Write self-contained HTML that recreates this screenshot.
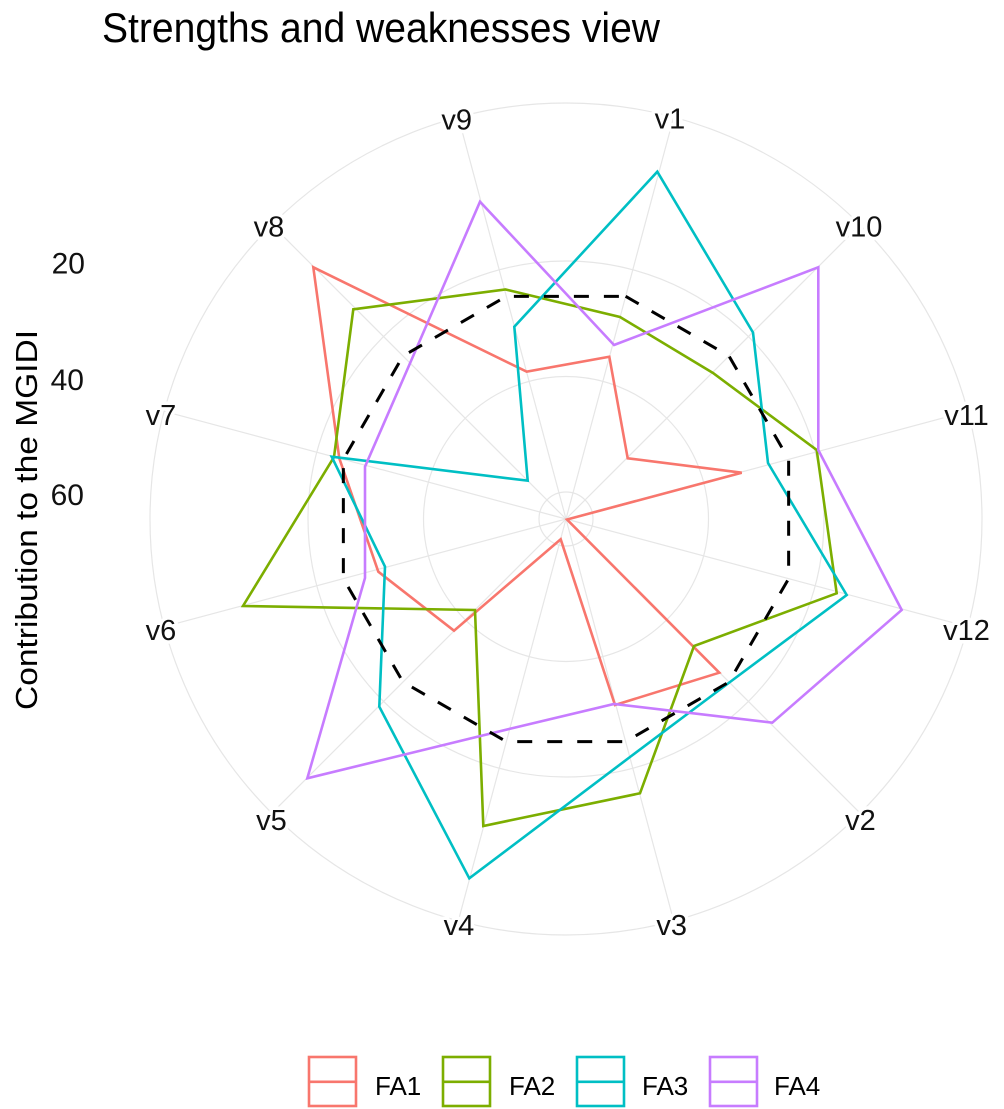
<!DOCTYPE html>
<html><head><meta charset="utf-8"><style>
html,body{margin:0;padding:0;background:#fff;}
svg{display:block;font-family:"Liberation Sans",Arial,sans-serif;}
</style></head><body>
<svg width="1004" height="1109" viewBox="0 0 1004 1109" xmlns="http://www.w3.org/2000/svg">
<rect width="1004" height="1109" fill="#fff"/>
<!-- title -->
<text x="102" y="42" font-size="42" fill="#000" textLength="558" lengthAdjust="spacingAndGlyphs">Strengths and weaknesses view</text>
<!-- grid circles -->
<g fill="none" stroke="#e6e6e6" stroke-width="1.2">
<circle cx="566" cy="519" r="27"/>
<circle cx="566" cy="519" r="142.5"/>
<circle cx="566" cy="519" r="258"/>
<circle cx="566" cy="519" r="416"/>
<line x1="566" y1="519" x2="673.67" y2="117.17"/>
<line x1="566" y1="519" x2="860.16" y2="224.84"/>
<line x1="566" y1="519" x2="967.83" y2="411.33"/>
<line x1="566" y1="519" x2="967.83" y2="626.67"/>
<line x1="566" y1="519" x2="860.16" y2="813.16"/>
<line x1="566" y1="519" x2="673.67" y2="920.83"/>
<line x1="566" y1="519" x2="458.33" y2="920.83"/>
<line x1="566" y1="519" x2="271.84" y2="813.16"/>
<line x1="566" y1="519" x2="164.17" y2="626.67"/>
<line x1="566" y1="519" x2="164.17" y2="411.33"/>
<line x1="566" y1="519" x2="271.84" y2="224.84"/>
<line x1="566" y1="519" x2="458.33" y2="117.17"/>
</g>
<!-- series -->
<g fill="none" stroke-width="2.6" stroke-linejoin="miter">
<polygon stroke="#F8766D" points="609.3,356.7 627.7,458.3 741.7,472.7 567,519.5 719.3,672.7 615,705 560.7,539.3 454,630.7 378.3,571.7 339.3,458.3 313.3,267.3 526.7,371.7"/>
<polygon stroke="#7CAE00" points="620,317 713,373 816.7,450 836.7,593.3 694,646 640,793.3 483.3,826 475,610 243,606 334,457 353.3,309.3 505.5,289.5"/>
<polygon stroke="#00BFC4" points="657.3,171.7 753,332.5 768,463 846.7,595 730,682 630,757 469.3,878.3 379.3,706.7 385,566.7 331.7,456.7 527.7,480.7 514.3,326.7"/>
<polygon stroke="#C77CFF" points="614,345 818.3,267.3 818.3,450 901.7,610 772.3,722.7 614,704 509,729 307.3,778.3 365,578 365,466.7 410.4,362.4 480,201.7"/>
</g>
<polygon fill="none" stroke="#000" stroke-width="3" stroke-dasharray="15 15" points="625.66,296.36 728.99,356.01 788.64,459.34 788.64,578.66 728.99,681.99 625.66,741.64 506.34,741.64 403.01,681.99 343.36,578.66 343.36,459.34 403.01,356.01 506.34,296.36"/>
<!-- theta labels -->
<g font-size="29" fill="#111" text-anchor="middle" stroke="#fff" stroke-width="7" paint-order="stroke" stroke-linejoin="round">
<text x="670" y="128.5">v1</text>
<text x="859" y="236.7">v10</text>
<text x="966.5" y="425">v11</text>
<text x="966.5" y="640">v12</text>
<text x="860.5" y="830">v2</text>
<text x="671.7" y="935">v3</text>
<text x="459" y="935">v4</text>
<text x="271.5" y="830">v5</text>
<text x="161" y="640">v6</text>
<text x="161" y="425">v7</text>
<text x="269" y="236.7">v8</text>
<text x="456.7" y="129.3">v9</text>
</g>
<!-- r axis labels -->
<g font-size="30" fill="#111" text-anchor="end">
<text x="85" y="273.3">20</text>
<text x="84" y="390">40</text>
<text x="84" y="505">60</text>
</g>
<text transform="translate(37,520) rotate(-90)" text-anchor="middle" font-size="31" fill="#000" textLength="380" lengthAdjust="spacingAndGlyphs">Contribution to the MGIDI</text>
<!-- legend -->
<g fill="none" stroke-width="2.6">
<rect x="309" y="1057" width="47" height="49" stroke="#F8766D"/>
<line x1="309" y1="1081.8" x2="356" y2="1081.8" stroke="#F8766D"/>
<rect x="443" y="1057" width="47" height="49" stroke="#7CAE00"/>
<line x1="443" y1="1081.8" x2="490" y2="1081.8" stroke="#7CAE00"/>
<rect x="577" y="1057" width="47" height="49" stroke="#00BFC4"/>
<line x1="577" y1="1081.8" x2="624" y2="1081.8" stroke="#00BFC4"/>
<rect x="710" y="1057" width="47" height="49" stroke="#C77CFF"/>
<line x1="710" y1="1081.8" x2="757" y2="1081.8" stroke="#C77CFF"/>
</g>
<g font-size="26" fill="#000">
<text x="375" y="1095">FA1</text>
<text x="509" y="1095">FA2</text>
<text x="642" y="1095">FA3</text>
<text x="774" y="1095">FA4</text>
</g>
</svg>
</body></html>
